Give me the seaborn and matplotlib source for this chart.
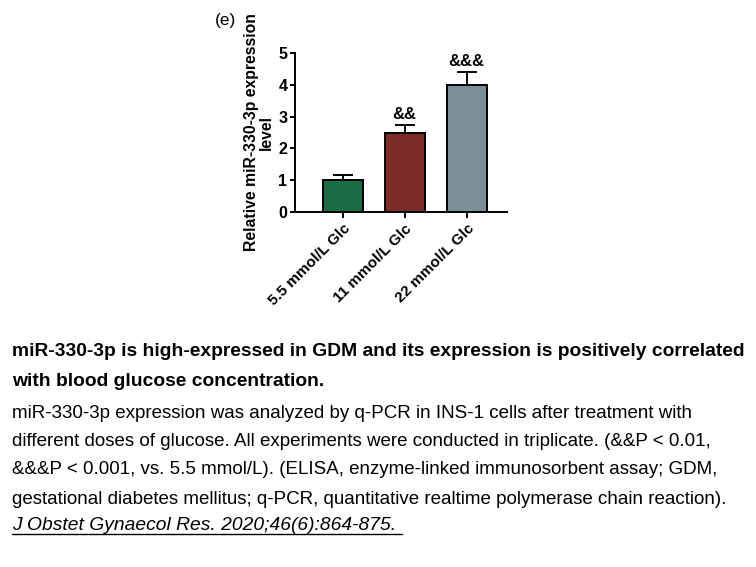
"""Bar chart of relative miR-330-3p expression under different glucose doses, with caption."""

import matplotlib

matplotlib.use("Agg")
import matplotlib.pyplot as plt
import pandas as pd
import seaborn as sns

groups = ["5.5 mmol/L Glc", "11 mmol/L Glc", "22 mmol/L Glc"]
expression = [1.0, 2.48, 3.98]
errors = [0.16, 0.25, 0.43]
significance = ["", "&&", "&&&"]
bar_colors = ["#1b6b45", "#7b2b28", "#7b8f96"]

caption_title = [
    "miR-330-3p is high-expressed in GDM and its expression is positively correlated",
    "with blood glucose concentration.",
]
caption_body = [
    "miR-330-3p expression was analyzed by q-PCR in INS-1 cells after treatment with",
    "different doses of glucose. All experiments were conducted in triplicate. (&&P < 0.01,",
    "&&&P < 0.001, vs. 5.5 mmol/L). (ELISA, enzyme-linked immunosorbent assay; GDM,",
    "gestational diabetes mellitus; q-PCR, quantitative realtime polymerase chain reaction).",
]
citation = "J Obstet Gynaecol Res. 2020;46(6):864-875. "

sns.set_theme(style="ticks")
plt.rcParams["font.family"] = ["Liberation Sans", "DejaVu Sans"]
plt.rcParams["text.color"] = "black"
plt.rcParams["axes.labelcolor"] = "black"
plt.rcParams["xtick.color"] = "black"
plt.rcParams["ytick.color"] = "black"
plt.rcParams["axes.edgecolor"] = "black"

frame = pd.DataFrame({"group": groups, "value": expression})

W, H = 756, 567
fig = plt.figure(figsize=(W / 100, H / 100), dpi=100)
# axes box in pixel terms: x 295..507, y(0)=212, y(5)=53
ax = fig.add_axes([295 / W, 1 - 212 / H, (507 - 295) / W, (212 - 53) / H])

sns.barplot(
    data=frame,
    x="group",
    y="value",
    hue="group",
    palette=bar_colors,
    saturation=1,
    legend=False,
    width=0.645,
    edgecolor="black",
    linewidth=1.4,
    ax=ax,
)
ax.errorbar(
    range(len(groups)),
    expression,
    yerr=[[0] * len(errors), errors],
    fmt="none",
    ecolor="black",
    elinewidth=1.4,
    capsize=7.5,
    capthick=1.4,
    zorder=0.5,
)
for i, (val, err, mark) in enumerate(zip(expression, errors, significance)):
    if mark:
        ax.text(i, val + err + 0.1, mark, ha="center", va="bottom",
                fontsize=12, fontweight="bold")

ax.set_xlim(-0.77, 2.65)
ax.set_ylim(0, 5)
ax.set_yticks(range(6))
ax.set_xlabel("")
ax.set_ylabel("Relative miR-330-3p expression\nlevel", fontsize=11.3,
              fontweight="bold", labelpad=3, linespacing=1.05)
ax.tick_params(axis="y", direction="out", length=3.5, width=1.4, pad=2,
               labelsize=11.5)
ax.tick_params(axis="x", direction="out", length=4, width=1.4, pad=3)
for lab in ax.get_yticklabels():
    lab.set_fontweight("bold")
ax.set_xticks(range(len(groups)))
ax.set_xticklabels(groups, rotation=45, ha="right", rotation_mode="anchor",
                   fontweight="bold", fontsize=11)
sns.despine(ax=ax)
for side in ("left", "bottom"):
    ax.spines[side].set_linewidth(1.4)

fig.text(215 / W, 1 - 21 / H, "(e)", fontsize=12.5, va="center", ha="left")

title_y = [352, 381]
for line, y in zip(caption_title, title_y):
    fig.text(12 / W, 1 - y / H, line, fontsize=13.9, fontweight="bold",
             va="center", ha="left")
body_y = [413, 442, 470, 499]
for line, y in zip(caption_body, body_y):
    fig.text(12 / W, 1 - y / H, line, fontsize=13.5, va="center", ha="left")
cite = fig.text(12 / W, 1 - 526 / H, citation, fontsize=13.9, style="italic",
                va="center", ha="left")
fig.canvas.draw()
bb = cite.get_window_extent()
fig.add_artist(plt.Line2D([bb.x0 / W, bb.x1 / W], [(bb.y0 + 1) / H, (bb.y0 + 1) / H],
                          color="black", linewidth=1))

fig.savefig("out.png", dpi=100)
